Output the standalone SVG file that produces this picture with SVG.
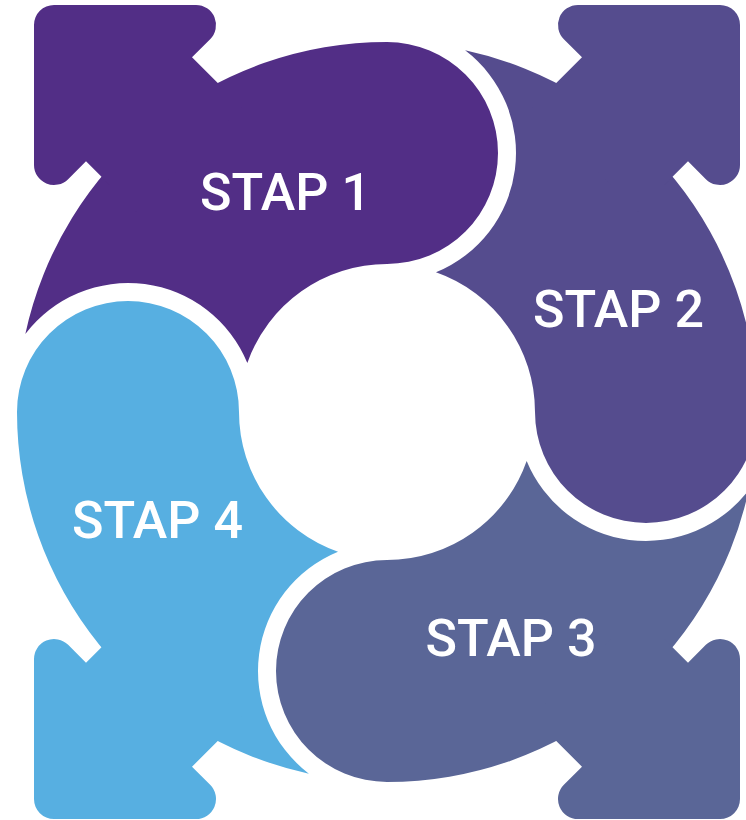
<svg xmlns="http://www.w3.org/2000/svg" xmlns:xlink="http://www.w3.org/1999/xlink" width="746" height="820" viewBox="0 0 746 820">
  <style>
    .s1 { fill: #522E86; }
    .s2 { fill: #554C8E; }
    .s3 { fill: #5A6697; }
    .s4 { fill: #57AFE1; }
    .lbl { fill: #FFFFFF; font-family: Roboto, "Liberation Sans", "DejaVu Sans", sans-serif; font-size: 52px; font-weight: 500; text-anchor: middle; }
  </style>
  <defs>
    <path id="ring" d="M25.34,333.89 A370,370 0 0 1 387,42 A111,111 0 0 1 498,153 A111,111 0 0 1 387,264 A148,148 0 0 0 247.34,363.02 A129,129 0 0 0 25.34,333.89 Z"/>
    <path id="head" d="M34,25 A20,20 0 0 1 54,5 L196,5 A20,20 0 0 1 210.14,39.14 L192,57.28 L242,107.28 L136,211.3 L86,161.3 L68.14,179.14 A20,20 0 0 1 34,165 Z"/>
  </defs>
  <rect width="746" height="820" fill="#FFFFFF"/>
  <g id="stap1" class="s1">
    <use xlink:href="#ring"/>
    <use xlink:href="#head"/>
    <text class="lbl" x="285.5" y="210">STAP 1</text>
  </g>
  <g id="stap2" class="s2">
    <use xlink:href="#ring" transform="rotate(90 387 412)"/>
    <use xlink:href="#head" transform="translate(774 0) scale(-1 1)"/>
    <text class="lbl" x="618.5" y="327">STAP 2</text>
  </g>
  <g id="stap3" class="s3">
    <use xlink:href="#ring" transform="rotate(180 387 412)"/>
    <use xlink:href="#head" transform="translate(774 824) scale(-1 -1)"/>
    <text class="lbl" x="511" y="656">STAP 3</text>
  </g>
  <g id="stap4" class="s4">
    <use xlink:href="#ring" transform="rotate(270 387 412)"/>
    <use xlink:href="#head" transform="translate(0 824) scale(1 -1)"/>
    <text class="lbl" x="157.5" y="538">STAP 4</text>
  </g>
  <g id="connectors"/>
</svg>
